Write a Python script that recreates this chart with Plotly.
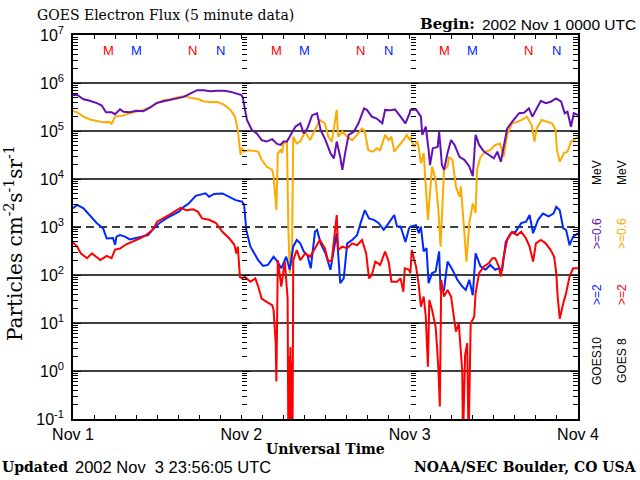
import plotly.graph_objects as go

# ---------------- data (hours since 2002 Nov 1 00:00 UT, log10 of flux) -------------
g10_low_hours = [0, 0.6, 1.5, 2.4, 3.4, 4.1, 4.7, 5.5, 6.0, 6.7, 7.2, 8.1, 9.0, 10.0, 11.0, 11.9, 12.9, 13.9, 14.8,
                 15.8, 16.7, 17.7, 18.6, 19.6, 20.5, 21.5, 22.4, 23.3, 24.0, 24.2, 24.4, 24.8, 25.5, 26.2, 26.9, 27.6,
                 28.4, 29.1, 29.6, 30.0, 30.5, 31.0, 31.7, 32.4, 32.9, 33.4, 34.1, 34.8, 35.3, 36.0, 36.7, 37.2, 37.6,
                 38.1, 38.4, 38.8, 39.3, 40.0, 40.7, 41.5, 41.9, 42.6, 43.3, 44.1, 44.5, 45.2, 45.9, 46.7, 47.4, 48.0,
                 48.1, 48.9, 49.6, 49.8, 50.3, 50.7, 50.9, 51.3, 52.0, 52.2, 52.6, 52.9, 53.4, 53.9, 54.4, 55.1, 55.8,
                 56.5, 57.0, 57.4, 57.9, 58.6, 59.3, 60.0, 60.5, 61.0, 61.4, 61.9, 62.6, 63.6, 64.3, 65.0, 65.5, 66.2,
                 66.7, 67.4, 68.1, 68.9, 69.6, 70.1, 70.5, 71.0, 71.4, 72.0]
g10_low_logflux = [5.75, 5.75, 5.66, 5.63, 5.58, 5.53, 5.39, 5.39, 5.35, 5.45, 5.40, 5.39, 5.42, 5.41, 5.49, 5.58,
                   5.62, 5.65, 5.69, 5.71, 5.78, 5.85, 5.85, 5.83, 5.84, 5.84, 5.82, 5.78, 5.75, 5.70, 5.55, 5.23,
                   5.02, 4.95, 4.81, 4.78, 4.83, 4.73, 4.71, 4.78, 4.78, 4.92, 5.09, 5.16, 4.95, 5.05, 5.33, 5.37,
                   5.02, 4.81, 4.54, 4.43, 4.78, 4.46, 4.19, 4.54, 4.92, 4.98, 5.16, 5.47, 5.44, 5.30, 5.26, 5.16,
                   5.44, 5.43, 5.45, 5.30, 5.16, 5.37, 5.44, 5.45, 5.30, 4.92, 5.09, 4.60, 4.29, 4.64, 4.67, 4.99,
                   4.29, 4.19, 4.54, 4.81, 4.71, 4.46, 4.40, 4.26, 4.06, 4.92, 4.71, 4.57, 4.50, 4.43, 4.57, 4.36,
                   4.67, 5.05, 5.19, 5.37, 5.38, 5.47, 5.30, 5.51, 5.63, 5.58, 5.61, 5.68, 5.61, 5.37, 5.40, 5.09,
                   5.37, 5.33]

g8_low_hours = [0, 0.6, 1.5, 2.4, 3.4, 4.3, 5.2, 5.5, 6.0, 7.1, 8.1, 9.0, 10.0, 11.0, 11.9, 12.9, 13.9, 14.8, 16.0,
                16.7, 17.7, 18.6, 19.6, 20.5, 21.5, 22.4, 23.1, 23.5, 23.7, 23.9, 24.1, 24.4, 25.0, 25.7, 26.4, 26.9,
                27.6, 28.4, 28.6, 29.0, 29.2, 29.6, 29.8, 30.0, 30.5, 30.7, 30.9, 31.1, 31.2, 31.4, 31.9, 32.4, 33.1,
                33.8, 34.5, 35.2, 35.9, 36.4, 36.9, 37.6, 37.8, 38.4, 39.1, 39.8, 40.5, 41.2, 41.6, 42.1, 42.8, 43.3,
                43.8, 44.5, 45.0, 45.4, 45.8, 46.4, 47.1, 47.6, 48.0, 48.1, 48.6, 49.1, 49.3, 49.6, 50.0, 50.3, 50.6,
                51.2, 51.7, 52.1, 52.4, 52.9, 53.4, 53.6, 54.1, 54.6, 55.1, 55.3, 55.8, 56.1, 56.5, 57.0, 57.4, 57.6,
                58.1, 58.8, 59.5, 60.2, 60.9, 61.4, 61.9, 62.6, 63.3, 64.0, 64.7, 65.4, 65.8, 66.1, 66.8, 67.6, 68.3,
                68.8, 69.0, 69.4, 70.0, 70.5, 71.0, 71.4, 72.0]
g8_low_logflux = [5.42, 5.39, 5.30, 5.24, 5.21, 5.18, 5.19, 5.15, 5.30, 5.32, 5.37, 5.40, 5.44, 5.49, 5.58, 5.64,
                  5.66, 5.70, 5.73, 5.69, 5.67, 5.62, 5.60, 5.61, 5.55, 5.45, 5.30, 5.02, 4.67, 4.50, 4.64, 4.57,
                  4.60, 4.59, 4.57, 4.40, 4.26, 4.19, 4.05, 3.35, 4.54, 4.60, 4.54, 4.74, 4.78, 3.00, 2.04, 2.50,
                  2.20, 4.88, 4.74, 4.78, 4.99, 4.81, 5.02, 5.23, 5.16, 4.88, 4.78, 5.44, 4.88, 4.99, 4.88, 4.81,
                  4.92, 5.05, 4.99, 4.60, 4.57, 4.64, 4.60, 4.92, 4.81, 4.88, 4.57, 4.67, 4.81, 4.92, 4.81, 4.88,
                  4.67, 4.78, 4.64, 4.33, 4.54, 3.84, 3.15, 4.26, 3.98, 3.35, 2.59, 4.19, 4.26, 4.46, 4.40, 3.84,
                  3.63, 3.84, 2.80, 2.28, 3.08, 3.49, 3.29, 4.19, 4.46, 4.57, 4.60, 4.71, 4.74, 4.46, 4.92, 5.16,
                  5.19, 5.23, 5.30, 5.12, 4.78, 5.05, 5.23, 5.19, 5.16, 5.02, 4.60, 4.36, 4.54, 4.57, 4.78, 4.81,
                  4.88]

g10_high_hours = [0, 0.6, 1.5, 2.4, 3.4, 4.3, 4.8, 5.7, 6.0, 6.2, 6.7, 7.4, 8.1, 9.0, 10.0, 10.7, 11.4, 12.3, 13.3,
                  14.2, 15.1, 15.8, 16.5, 17.5, 18.4, 18.9, 19.4, 20.1, 21.3, 22.3, 23.2, 24.0, 24.1, 24.4, 24.7,
                  25.3, 25.7, 26.4, 27.1, 27.8, 28.6, 29.0, 29.7, 30.4, 30.9, 31.4, 31.9, 32.4, 32.9, 33.4, 33.9,
                  34.5, 34.8, 35.3, 36.0, 36.7, 37.6, 38.1, 38.6, 39.1, 39.8, 40.5, 41.0, 41.6, 42.2, 42.9, 43.6,
                  44.3, 45.0, 45.8, 46.2, 46.7, 47.4, 47.9, 48.1, 48.9, 49.3, 49.6, 50.0, 50.4, 50.7, 51.2, 51.7,
                  52.2, 52.4, 52.9, 53.4, 54.1, 54.8, 55.5, 56.0, 56.5, 57.0, 57.4, 58.1, 58.8, 59.5, 60.2, 60.7,
                  61.2, 61.7, 62.4, 63.1, 63.9, 64.6, 65.1, 65.6, 66.3, 67.0, 67.8, 68.5, 68.9, 69.4, 69.9, 70.3,
                  70.8, 71.3, 72.0]
g10_high_logflux = [3.39, 3.46, 3.39, 3.25, 3.08, 2.97, 2.76, 2.77, 2.63, 2.80, 2.83, 2.80, 2.74, 2.77, 2.81, 2.83,
                    2.95, 3.08, 3.18, 3.25, 3.32, 3.42, 3.49, 3.65, 3.69, 3.70, 3.63, 3.69, 3.70, 3.63, 3.56, 3.53,
                    3.53, 3.46, 2.94, 2.59, 2.49, 2.31, 2.19, 2.21, 2.38, 2.31, 2.14, 2.38, 2.11, 2.59, 2.73, 2.66,
                    2.49, 2.42, 2.14, 2.90, 2.94, 2.66, 2.45, 2.11, 2.87, 1.83, 1.93, 2.66, 2.73, 2.83, 3.08, 3.35,
                    3.18, 3.15, 3.08, 2.94, 3.08, 3.25, 3.01, 3.01, 2.69, 2.97, 3.01, 3.04, 2.87, 3.01, 2.49, 2.56,
                    1.83, 2.04, 2.07, 2.49, 1.69, 1.69, 2.28, 2.11, 1.90, 1.76, 1.69, 1.90, 1.58, 2.45, 2.18, 2.11,
                    2.21, 2.11, 2.14, 2.11, 2.69, 2.87, 2.90, 3.08, 3.11, 3.25, 2.87, 3.15, 3.28, 3.22, 3.28, 3.42,
                    3.35, 2.97, 2.94, 2.62, 2.80, 2.87]

g8_high_hours = [0, 0.6, 1.1, 2.0, 2.7, 3.9, 4.8, 5.5, 6.0, 6.7, 7.6, 8.5, 9.5, 10.4, 11.4, 12.0, 12.9, 13.9, 14.8,
                 15.3, 16.2, 17.1, 17.8, 18.4, 19.4, 20.4, 21.3, 22.3, 23.0, 23.3, 23.5, 23.8, 24.1, 24.5, 25.3, 26.0,
                 26.4, 26.9, 27.6, 28.4, 28.6, 28.9, 29.0, 29.2, 29.7, 30.2, 30.6, 30.7, 30.8, 30.9, 31.0, 31.1, 31.2,
                 31.3, 31.4, 31.9, 32.4, 33.1, 33.8, 34.5, 35.2, 35.9, 36.4, 36.9, 37.3, 37.6, 37.8, 38.4, 39.1, 39.8,
                 40.5, 41.2, 41.8, 42.2, 42.6, 43.1, 43.8, 44.5, 45.0, 45.4, 46.2, 46.7, 47.1, 47.3, 47.9, 48.1, 48.3,
                 48.9, 49.3, 49.6, 50.0, 50.3, 50.6, 50.8, 51.2, 51.7, 51.9, 52.1, 52.3, 52.5, 52.9, 53.4, 53.9, 54.3,
                 54.6, 55.0, 55.5, 55.6, 55.9, 56.2, 56.4, 56.7, 57.2, 57.4, 57.9, 58.6, 59.3, 59.8, 60.2, 60.7, 61.0,
                 61.4, 61.9, 62.6, 63.3, 63.9, 64.6, 65.1, 65.6, 66.0, 66.7, 67.4, 68.1, 68.6, 68.9, 69.1, 69.4, 69.9,
                 70.3, 70.8, 71.3, 72.0]
g8_high_logflux = [2.68, 2.59, 2.45, 2.35, 2.45, 2.31, 2.40, 2.35, 2.53, 2.55, 2.64, 2.69, 2.76, 2.83, 2.95, 3.11,
                   3.18, 3.27, 3.35, 3.40, 3.35, 3.37, 3.32, 3.18, 3.15, 3.08, 2.90, 2.76, 2.63, 2.45, 2.59, 1.96,
                   1.93, 1.96, 1.86, 1.93, 1.76, 1.51, 1.44, 1.37, 1.27, 0.58, -0.22, 2.31, 1.76, 2.28, 1.50, -1.5,
                   0.30, -1.5, 0.50, -1.5, 0.20, -1.5, 2.31, 2.52, 2.31, 2.45, 2.38, 2.56, 2.73, 2.56, 2.28, 2.31,
                   2.94, 3.25, 2.52, 2.59, 2.56, 2.66, 2.62, 2.73, 2.45, 1.93, 2.00, 2.28, 2.21, 2.49, 2.28, 1.86,
                   1.86, 1.93, 1.65, 2.14, 2.11, 2.04, 2.52, 2.18, 1.79, 1.34, 1.55, 1.13, 0.09, 1.48, 1.27, 0.92,
                   0.51, 0.02, -0.74, 1.90, 1.55, 1.69, 1.55, 1.13, 0.82, 0.99, -0.01, -1.5, 0.33, 0.58, -1.5, 0.99,
                   1.13, 1.62, 2.04, 2.18, 2.25, 2.35, 2.35, 2.18, 1.97, 2.38, 2.73, 2.90, 2.83, 2.90, 2.76, 2.59,
                   2.28, 2.66, 2.73, 2.66, 2.52, 2.38, 2.04, 1.55, 1.09, 1.41, 1.62, 1.97, 2.14, 2.14]

day_hours = [0, 24, 48, 72]
day_labels = ["Nov 1", "Nov 2", "Nov 3", "Nov 4"]
decades = [-1, 0, 1, 2, 3, 4, 5, 6, 7]
decade_labels = ["10<sup>-1</sup>", "10<sup>0</sup>", "10<sup>1</sup>", "10<sup>2</sup>", "10<sup>3</sup>",
                 "10<sup>4</sup>", "10<sup>5</sup>", "10<sup>6</sup>", "10<sup>7</sup>"]
solid_grid_decades = [0, 1, 2, 4, 5, 6]
dashed_grid_decades = [3]
# local midnight (M) / noon (N) hour for each satellite
g8_midnight_noon = [5, 17]
g10_midnight_noon = [9, 21]

# ---------------- style ----------------
PURPLE = "#6410b4"
ORANGE = "#ffaa00"
BLUE = "#0028ff"
RED = "#ff0000"
SANS = "Liberation Sans"
SERIF = "DejaVu Serif"

W, H = 640, 480
ML, MR, MT, MB = 73, 62, 35, 61
PW, PH = W - ML - MR, H - MT - MB


def px(xp):
    return (xp - ML) / PW


def py(yp):
    return (H - MB - yp) / PH


major_vals = [10 ** d for d in decades]
minor_vals = [k * 10 ** d for d in decades[:-1] for k in range(2, 10)]

fig = go.Figure()

# grid lines
gx, gy = [], []
for d in solid_grid_decades:
    gx += [day_hours[0], day_hours[-1], None]
    gy += [10 ** d, 10 ** d, None]
fig.add_trace(go.Scatter(x=gx, y=gy, mode="lines", line=dict(color="black", width=1.6),
                         showlegend=False, hoverinfo="skip"))
dx, dy = [], []
for d in dashed_grid_decades:
    dx += [day_hours[0], day_hours[-1], None]
    dy += [10 ** d, 10 ** d, None]
fig.add_trace(go.Scatter(x=dx, y=dy, mode="lines", line=dict(color="black", width=1.6, dash="8px,5px"),
                         showlegend=False, hoverinfo="skip"))

series = [
    (g8_low_hours, g8_low_logflux, ORANGE),
    (g10_low_hours, g10_low_logflux, PURPLE),
    (g10_high_hours, g10_high_logflux, BLUE),
    (g8_high_hours, g8_high_logflux, RED),
]
for hrs, lf, col in series:
    fig.add_trace(go.Scatter(x=hrs, y=[10 ** v for v in lf], mode="lines",
                             line=dict(color=col, width=2), showlegend=False, hoverinfo="skip"))

# dummy traces to realise the day-boundary tick columns
for ax in ["y2", "y3"]:
    fig.add_trace(go.Scatter(x=[None], y=[None], yaxis=ax, showlegend=False, hoverinfo="skip"))

yaxis_common = dict(type="log", range=[decades[0], decades[-1]], showgrid=False, zeroline=False)

fig.update_layout(
    width=W, height=H,
    margin=dict(l=ML, r=MR, t=MT, b=MB, pad=0),
    paper_bgcolor="white", plot_bgcolor="white",
    font=dict(family=SANS, color="black"),
    xaxis=dict(range=[day_hours[0], day_hours[-1]], tickvals=day_hours, ticktext=day_labels,
               ticks="inside", ticklen=4, tickwidth=1, tickcolor="black",
               minor=dict(dtick=3, tick0=0, ticks="inside", ticklen=4, tickcolor="black"),
               showline=True, linecolor="black", linewidth=1.5, mirror="ticks",
               showgrid=False, zeroline=False, tickfont=dict(family=SANS, size=16),
               ticklabelstandoff=0),
    yaxis=dict(**yaxis_common, tickvals=major_vals, ticktext=decade_labels,
               ticks="inside", ticklen=8, tickcolor="black",
               minor=dict(tickvals=minor_vals, ticks="inside", ticklen=5, tickcolor="black"),
               showline=True, linecolor="black", linewidth=1.5, mirror="ticks",
               tickfont=dict(family=SANS, size=16), ticklabelstandoff=4),
    yaxis2=dict(**yaxis_common, overlaying="y", anchor="free", position=day_hours[1] / day_hours[-1],
                side="left", showline=False, showticklabels=False, tickvals=major_vals,
                ticks="inside", ticklen=8, tickcolor="black",
                minor=dict(tickvals=minor_vals, ticks="inside", ticklen=5, tickcolor="black")),
    yaxis3=dict(**yaxis_common, overlaying="y", anchor="free", position=day_hours[2] / day_hours[-1],
                side="left", showline=False, showticklabels=False, tickvals=major_vals,
                ticks="inside", ticklen=8, tickcolor="black",
                minor=dict(tickvals=minor_vals, ticks="inside", ticklen=5, tickcolor="black")),
)

ann = []
# title & header
ann.append(dict(text="GOES Electron Flux (5 minute data)", x=px(35), y=py(15), xref="paper", yref="paper",
                xanchor="left", yanchor="middle", showarrow=False,
                font=dict(family=SERIF, size=14, color="black")))
ann.append(dict(text="<b>Begin:</b>", x=px(418), y=py(24), xref="paper", yref="paper",
                xanchor="left", yanchor="middle", showarrow=False,
                font=dict(family=SERIF, size=15, color="black")))
ann.append(dict(text="2002 Nov 1 0000 UTC", x=px(638), y=py(24), xref="paper", yref="paper",
                xanchor="right", yanchor="middle", showarrow=False,
                font=dict(family=SANS, size=15.5, color="black")))
# footer
ann.append(dict(text="<b>Updated</b>", x=px(0), y=py(467), xref="paper", yref="paper",
                xanchor="left", yanchor="middle", showarrow=False,
                font=dict(family=SERIF, size=14, color="black")))
ann.append(dict(text="2002 Nov&nbsp;&nbsp;3 23:56:05 UTC", x=px(73), y=py(467), xref="paper", yref="paper",
                xanchor="left", yanchor="middle", showarrow=False,
                font=dict(family=SANS, size=16.5, color="black")))
ann.append(dict(text="<b>NOAA/SEC Boulder, CO USA</b>", x=px(639), y=py(467), xref="paper", yref="paper",
                xanchor="right", yanchor="middle", showarrow=False,
                font=dict(family=SERIF, size=14, color="black")))
ann.append(dict(text="<b>Universal Time</b>", x=px(325), y=py(449), xref="paper", yref="paper",
                xanchor="center", yanchor="middle", showarrow=False,
                font=dict(family=SERIF, size=14, color="black")))
# y title
ann.append(dict(text="Particles cm<sup>-2</sup>s<sup>-1</sup>sr<sup>-1</sup>", x=px(14), y=py(243),
                xref="paper", yref="paper", xanchor="center", yanchor="middle", textangle=-90,
                showarrow=False, font=dict(family=SERIF, size=20, color="black")))
# M / N markers
for day in day_hours[:-1]:
    for h, letter in zip(g8_midnight_noon, ["M", "N"]):
        ann.append(dict(text=letter, x=day + h, y=py(50), xref="x", yref="paper", showarrow=False,
                        xanchor="center", yanchor="middle", font=dict(family=SANS, size=13, color=RED)))
    for h, letter in zip(g10_midnight_noon, ["M", "N"]):
        ann.append(dict(text=letter, x=day + h, y=py(50), xref="x", yref="paper", showarrow=False,
                        xanchor="center", yanchor="middle", font=dict(family=SANS, size=13, color=BLUE)))
# right-side satellite labels
label_rows = [
    (597, [("GOES10", "black", 361), ("&gt;=2", BLUE, 295), ("&gt;=0.6", PURPLE, 234), ("MeV", "black", 173)]),
    (622, [("GOES 8", "black", 361), ("&gt;=2", RED, 295), ("&gt;=0.6", ORANGE, 234), ("MeV", "black", 173)]),
]
for xpix, parts in label_rows:
    for txt, col, ypix in parts:
        ann.append(dict(text=txt, x=px(xpix), y=py(ypix), xref="paper", yref="paper", textangle=-90,
                        xanchor="center", yanchor="middle", showarrow=False,
                        font=dict(family=SANS, size=12, color=col)))
fig.update_layout(annotations=ann)

fig.write_html("out.html")
